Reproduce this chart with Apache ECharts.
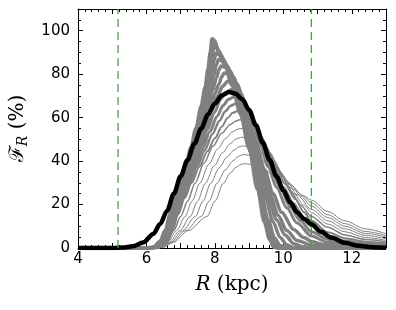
<!DOCTYPE html>
<html><head><meta charset="utf-8">
<script src="https://cdn.jsdelivr.net/npm/echarts@6/dist/echarts.min.js"></script>
<style>html,body{margin:0;padding:0;background:#fff}#c{width:396px;height:310px}</style>
</head><body><div id="c"></div>
<script>
// x ticks / y ticks
const xTicks = [4, 6, 8, 10, 12];
const yTicks = [0, 20, 40, 60, 80, 100];
const dashedX = [5.17, 10.82];
const dashedY = [0, 110];

// gray curves, from tallest/thickest to lowest/thinnest: [R, F_R]
const g00 = [[4,0],[6.0,0],[6.2,0.3],[6.4,3],[6.55,8],[6.7,15.5],[6.85,23],[7.0,30],[7.15,37.5],[7.3,46],[7.45,55],[7.6,65],[7.72,74],[7.8,82],[7.87,90],[7.92,96.2],[7.98,95.5],[8.1,91],[8.3,84],[8.5,75],[8.75,62],[9.0,46],[9.25,27],[9.45,12],[9.6,4],[9.72,0.5],[9.85,0],[13,0]];
const g01 = [[4,0],[6.0,0],[6.22,0.3],[6.42,3],[6.57,8],[6.72,15.5],[6.87,23],[7.02,30],[7.17,37.5],[7.32,46],[7.48,55],[7.63,65],[7.76,74],[7.86,82],[7.92,88],[7.97,92.8],[8.04,92],[8.17,89],[8.38,82.5],[8.58,73.5],[8.8,60],[9.05,44],[9.3,26],[9.5,12],[9.65,4.5],[9.8,1],[9.95,0],[13,0]];
const g02 = [[4,0],[6.0,0],[6.24,0.3],[6.44,3],[6.59,8],[6.74,15.5],[6.89,23],[7.04,30],[7.19,37.5],[7.35,46],[7.51,55],[7.67,65],[7.8,73.5],[7.91,81],[7.98,86.5],[8.03,89.8],[8.11,89],[8.23,87],[8.45,81],[8.65,72],[8.87,58.5],[9.1,43],[9.35,26],[9.55,13],[9.75,4.5],[9.9,1.2],[10.1,0],[13,0]];
const g03 = [[4,0],[6.0,0],[6.26,0.3],[6.46,3],[6.61,8],[6.76,15.5],[6.91,23],[7.06,30],[7.22,37.5],[7.38,46],[7.55,55],[7.72,65],[7.86,73],[7.97,79.5],[8.04,84],[8.1,86.8],[8.19,86.2],[8.33,84.5],[8.55,78.5],[8.74,70],[8.97,56],[9.2,40],[9.45,25],[9.7,12],[9.9,5],[10.1,1.5],[10.3,0.2],[10.5,0],[13,0]];
const g04 = [[4,0],[6.0,0],[6.28,0.3],[6.48,3],[6.63,8],[6.78,15.5],[6.93,23],[7.08,30],[7.25,37.5],[7.42,46],[7.6,55],[7.78,65],[7.93,72.5],[8.05,78.5],[8.12,82],[8.18,83.8],[8.28,83.3],[8.43,81.5],[8.65,75.5],[8.83,67],[9.06,53],[9.3,38],[9.55,24],[9.8,13],[10.05,6],[10.3,2],[10.55,0.6],[10.82,0.2],[11.2,0],[13,0]];
const g05 = [[4,0],[6.0,0],[6.3,0.3],[6.5,3],[6.65,8],[6.8,15.5],[6.95,23],[7.11,30],[7.28,37.5],[7.46,46],[7.65,55],[7.84,64],[8.0,71],[8.12,75.5],[8.2,78.8],[8.27,80.5],[8.37,80.2],[8.5,78.7],[8.68,74],[8.87,65.5],[9.1,52],[9.35,38],[9.6,25],[9.85,15],[10.1,8],[10.4,3.5],[10.82,1.3],[11.3,0.3],[11.8,0],[13,0]];
const g06 = [[4,0],[6.0,0],[6.3,0.2],[6.52,3],[6.67,8],[6.82,15.5],[6.98,23],[7.14,30],[7.32,37.5],[7.51,46],[7.71,55],[7.91,63.5],[8.08,70],[8.22,74.3],[8.38,76.8],[8.48,76.5],[8.6,75],[8.76,71],[8.96,62.5],[9.2,49],[9.45,36],[9.7,25],[9.95,16.5],[10.3,8.5],[10.6,4.8],[10.82,3],[11.2,1.5],[11.8,0.7],[12.4,0.4],[13,0.3]];
const g07 = [[4,0],[6.0,0],[6.32,0.2],[6.54,3],[6.69,8],[6.85,15.5],[7.01,23],[7.18,30],[7.37,37.5],[7.57,46],[7.78,54.5],[7.99,62.5],[8.17,68.5],[8.32,71.6],[8.48,73],[8.58,72.8],[8.7,71.3],[8.85,68],[9.05,61],[9.3,49],[9.55,37.5],[9.8,28],[10.1,18.5],[10.4,11.5],[10.82,5.5],[11.3,2.6],[11.8,1.4],[12.4,0.8],[13,0.6]];
const g08 = [[4,0],[6.0,0],[6.32,0.2],[6.56,3],[6.71,8],[6.87,15.5],[7.04,23],[7.22,30],[7.42,37.5],[7.63,45.5],[7.85,53.5],[8.06,60.5],[8.25,65.8],[8.4,68.5],[8.56,69.5],[8.66,69.2],[8.78,68],[8.95,64],[9.15,57],[9.4,46],[9.65,36],[9.9,28],[10.2,19],[10.5,12.5],[10.82,7.5],[11.3,4],[11.8,2.3],[12.4,1.4],[13,1.0]];
const g09 = [[4,0],[6.0,0],[6.34,0.2],[6.58,3],[6.73,8],[6.9,15.5],[7.08,23],[7.27,30],[7.48,37.5],[7.7,45],[7.93,52.5],[8.13,58.5],[8.3,62.8],[8.46,65.5],[8.62,66.5],[8.72,66.2],[8.84,65.2],[9.0,62.5],[9.2,56],[9.45,46.5],[9.7,37.5],[10.0,28],[10.3,20.5],[10.6,13.5],[10.82,10],[11.3,5.5],[11.8,3.3],[12.4,2.1],[13,1.5]];
const g10 = [[4,0],[6.0,0],[6.34,0.2],[6.6,3],[6.76,8],[6.93,15.5],[7.12,23],[7.32,30],[7.55,37.5],[7.78,44.5],[8.0,50.5],[8.2,55.8],[8.37,59.8],[8.52,62.2],[8.67,63],[8.77,62.8],[8.88,62],[9.05,60],[9.25,54.5],[9.5,46],[9.75,38.5],[10.05,29.5],[10.35,22.5],[10.6,16.5],[10.82,12.5],[11.3,7.3],[11.8,4.5],[12.4,2.9],[13,2.1]];
const g11 = [[4,0],[6.0,0],[6.38,0.2],[6.6,2.5],[6.8,8],[7.0,14.5],[7.2,21.5],[7.42,29.8],[7.68,39],[7.95,47],[8.2,52.8],[8.45,56.8],[8.6,58.3],[8.72,59],[8.85,58.8],[9.0,57.8],[9.15,56],[9.35,51.5],[9.6,44],[9.9,35],[10.2,26.5],[10.5,19.8],[10.82,14.5],[11.3,9.5],[11.8,6],[12.4,3.9],[13,2.8]];
const g12 = [[4,0],[6.0,0],[6.4,0.2],[6.62,2.5],[6.88,8],[7.13,14.5],[7.33,21.5],[7.56,29.8],[7.82,38.5],[8.08,45.5],[8.32,50.5],[8.52,53.5],[8.65,54.6],[8.76,55],[8.9,54.8],[9.05,54],[9.25,51.5],[9.5,46.5],[9.75,40],[10.0,32.5],[10.3,25.2],[10.6,19.8],[10.82,16.3],[11.3,11],[11.8,7.5],[12.4,4.8],[13,3.5]];
const g13 = [[4,0],[6.0,0],[6.42,0.2],[6.66,2.5],[6.98,8],[7.28,14.5],[7.49,21.5],[7.72,29.8],[7.98,37.8],[8.22,43.8],[8.45,48],[8.62,50.2],[8.79,51],[8.92,50.8],[9.08,50],[9.3,47.7],[9.55,43.2],[9.8,37.5],[10.1,31],[10.4,24.5],[10.82,17.8],[11.3,12.5],[11.8,8.8],[12.4,5.8],[13,4.2]];
const g14 = [[4,0],[6.0,0],[6.44,0.2],[6.7,2.5],[7.06,8],[7.43,14.5],[7.65,21.5],[7.88,29.8],[8.12,36.8],[8.35,41.8],[8.55,45],[8.7,46.5],[8.81,47],[8.95,46.8],[9.1,46.2],[9.3,44.5],[9.6,40.5],[9.9,35],[10.2,29.5],[10.5,24],[10.82,19.3],[11.3,14],[11.8,10],[12.4,6.7],[13,5]];
const g15 = [[4,0],[6.0,0],[6.46,0.2],[6.74,2.5],[7.14,8],[7.6,14.5],[7.83,21.5],[8.06,29.8],[8.3,35.8],[8.52,40],[8.7,42.3],[8.83,43],[8.98,42.8],[9.15,42],[9.4,40],[9.7,36.5],[9.95,33],[10.25,28.5],[10.55,24.2],[10.82,20.8],[11.3,15.3],[11.8,11.2],[12.4,7.6],[13,5.7]];
const g16 = [[4,0],[6.0,0],[6.48,0.2],[6.78,2.5],[7.22,8],[7.77,14.5],[8.0,21.5],[8.25,29.8],[8.45,34.5],[8.62,37.2],[8.75,38.4],[8.85,38.8],[9.0,38.6],[9.2,37.8],[9.45,36],[9.75,33],[10.0,30.3],[10.3,27],[10.6,24],[10.82,22],[11.3,16.8],[11.8,12.5],[12.4,8.8],[13,6.5]];
const grayCurves = [g00,g01,g02,g03,g04,g05,g06,g07,g08,g09,g10,g11,g12,g13,g14,g15,g16];
const grayWidths = [4,3.5,3.5,3.5,3.5,3.5,3.5,3,3,2.5,2,1.5,1,1,1,1,1];

// black (thick) curve
const blackCurve = [[4,0],[5.0,0],[5.3,0.2],[5.6,0.8],[5.9,2.5],[6.2,6.5],[6.4,11],[6.6,17],[6.8,25],[7.0,33],[7.2,40.5],[7.4,48],[7.6,55],[7.8,61.5],[8.0,66.5],[8.2,70.2],[8.42,71.8],[8.6,71],[8.8,68.5],[9.0,63.5],[9.2,56.5],[9.4,48.5],[9.6,40.5],[9.8,33],[10.0,26.5],[10.2,21],[10.4,16.5],[10.6,13.5],[10.82,11],[11.1,7.5],[11.4,4.8],[11.8,2.4],[12.2,1.0],[12.6,0.4],[13,0.15]];

const chart = echarts.init(document.getElementById('c'), null, {renderer: 'canvas'});
const tickFont = {fontFamily: 'DejaVu Sans', fontSize: 15, color: '#000'};
function mkX(pos, show) {
  return {
    type: 'value', position: pos, min: 4, max: 13, interval: 1,
    axisLine: {show: true, onZero: false, lineStyle: {color: '#000', width: 1}},
    axisTick: {show: true, inside: true, length: 5, lineStyle: {color: '#000'}},
    minorTick: {show: true, splitNumber: 5, length: 3, lineStyle: {color: '#000'}},
    splitLine: {show: false},
    axisLabel: Object.assign({show: show, margin: 4,
      formatter: v => xTicks.indexOf(v) >= 0 ? String(v) : ''}, tickFont),
  };
}
function mkY(pos, show) {
  return {
    type: 'value', position: pos, min: 0, max: 110, interval: 20,
    axisLine: {show: true, onZero: false, lineStyle: {color: '#000', width: 1}},
    axisTick: {show: true, inside: true, length: 5, lineStyle: {color: '#000'}},
    minorTick: {show: true, splitNumber: 4, length: 3, lineStyle: {color: '#000'}},
    splitLine: {show: false},
    axisLabel: Object.assign({show: show, margin: 8,
      formatter: v => yTicks.indexOf(v) >= 0 ? String(v) : ''}, tickFont),
  };
}
const xa = mkX('bottom', true);
xa.name = '{i|R}{n| (kpc)}';
xa.nameLocation = 'middle';
xa.nameGap = 27;
xa.nameTextStyle = {rich: {
  i: {fontFamily: 'DejaVu Serif', fontStyle: 'italic', fontSize: 20, color: '#000'},
  n: {fontFamily: 'DejaVu Serif', fontSize: 20, color: '#000'}
}};
const ya = mkY('left', true);
ya.name = '{f|ℱ}{s|R}{n| (%)}';
ya.nameLocation = 'middle';
ya.nameRotate = 90;
ya.nameGap = 48;
ya.nameTextStyle = {rich: {
  f: {fontFamily: 'DejaVu Serif', fontSize: 20, color: '#000'},
  s: {fontFamily: 'DejaVu Serif', fontStyle: 'italic', fontSize: 14, color: '#000', padding: [10, 0, 0, 0]},
  n: {fontFamily: 'DejaVu Serif', fontSize: 20, color: '#000'}
}};

const series = grayCurves.map((d, i) => ({
  type: 'line', data: d, xAxisIndex: 0, yAxisIndex: 0,
  showSymbol: false, symbol: 'none', smooth: 0.3, smoothMonotone: 'x',
  lineStyle: {color: '#808080', width: grayWidths[i]}, z: 2, silent: true, clip: true
}));
series.push({
  type: 'line', data: blackCurve, showSymbol: false, symbol: 'none', smooth: 0.3, smoothMonotone: 'x',
  lineStyle: {color: '#000', width: 4.5}, z: 3, silent: true, clip: true
});
dashedX.forEach(x => series.push({
  type: 'line', data: dashedY.map(y => [x, y]), showSymbol: false, symbol: 'none', z: 4, silent: true,
  color: '#4a9f4a',
  lineStyle: {color: '#4a9f4a', type: [8, 5], width: 1.3}
}));

chart.setOption({
  animation: false,
  grid: {left: 77, right: 10, top: 9, bottom: 62},
  xAxis: [xa, mkX('top', false)],
  yAxis: [ya, mkY('right', false)],
  series: series
});
</script></body></html>
